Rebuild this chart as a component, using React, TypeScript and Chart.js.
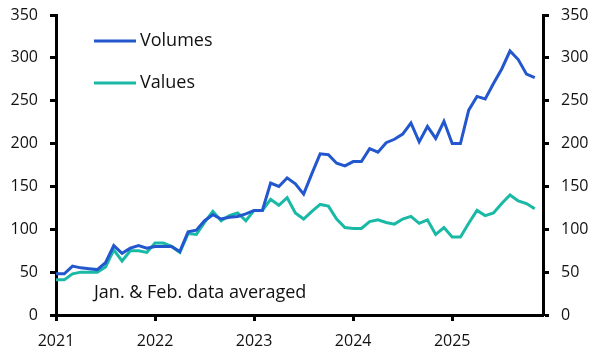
import React, { useEffect, useRef } from "react";
import { Chart, registerables } from "chart.js";

Chart.register(...registerables);

const years = ["2021", "2022", "2023", "2024", "2025"];
const monthNames = ["Jan", "Feb", "Mar", "Apr", "May", "Jun", "Jul", "Aug", "Sep", "Oct", "Nov", "Dec"];
const categories: string[] = [];
years.forEach((y) => monthNames.forEach((m) => categories.push(m + " " + y)));

const volumes = [
  48, 48, 57, 55, 54, 53, 61, 81, 72, 78, 81, 78,
  80, 80, 80, 74, 97, 99, 110, 117, 112, 114, 115, 118,
  122, 122, 154, 150, 160, 153, 141, 165, 188, 187, 177, 174,
  179, 179, 194, 190, 201, 205, 211, 224, 202, 220, 206, 226,
  200, 200, 239, 255, 252, 270, 287, 308, 298, 281, 277,
];

const values = [
  41, 41, 48, 50, 50, 50, 56, 76, 63, 75, 75, 73,
  84, 84, 80, 73, 95, 94, 108, 121, 110, 116, 119, 110,
  122, 122, 135, 128, 137, 119, 112, 121, 129, 127, 112, 102,
  101, 101, 109, 111, 108, 106, 112, 115, 107, 111, 94, 102,
  91, 91, 107, 122, 116, 119, 130, 140, 133, 130, 124,
];

const seriesNames = ["Volumes", "Values"];
const seriesColors = ["#2357CD", "#19B9A6"];
const note = "Jan. & Feb. data averaged";
const yTicks = { min: 0, max: 350, step: 50 };

const FONT = "'Open Sans', sans-serif";
const FONT_SIZE = 16;
const TEXT_SIZE = 18;

const overlayPlugin = {
  id: "overlay",
  afterDatasetsDraw(chart: any) {
    const ctx = chart.ctx;
    ctx.save();
    ctx.font = `${TEXT_SIZE}px ${FONT}`;
    ctx.textBaseline = "middle";
    ctx.textAlign = "left";
    chart.data.datasets.forEach((ds: any, i: number) => {
      const y = 41 + i * 42;
      ctx.strokeStyle = ds.borderColor;
      ctx.lineWidth = 3;
      ctx.beginPath();
      ctx.moveTo(94, y);
      ctx.lineTo(136, y);
      ctx.stroke();
      ctx.fillStyle = "#111";
      ctx.fillText(ds.label, 140, y);
    });
    ctx.fillStyle = "#111";
    ctx.fillText(note, 94, 293);
    ctx.restore();
  },
};

export default function App() {
  const ref = useRef<HTMLCanvasElement>(null);
  useEffect(() => {
    document.body.style.margin = "0";
    const yAxis = (position: "left" | "right", width: number) => ({
      type: "linear" as const,
      position,
      min: yTicks.min,
      max: yTicks.max,
      ticks: {
        stepSize: yTicks.step,
        color: "#111",
        font: { family: FONT, size: FONT_SIZE },
        padding: 12,
      },
      grid: {
        drawOnChartArea: false,
        drawTicks: true,
        tickLength: 6,
        tickWidth: 3,
        tickColor: "#000",
      },
      border: { display: true, color: "#000", width: 3 },
      afterFit: (s: any) => {
        s.width = width;
        s.paddingTop = 0;
        s.paddingBottom = 0;
      },
    });
    const chart = new Chart(ref.current!, {
      type: "line",
      data: {
        labels: categories,
        datasets: [
          {
            label: seriesNames[0],
            data: volumes,
            borderColor: seriesColors[0],
            backgroundColor: seriesColors[0],
            borderWidth: 3,
            pointRadius: 0,
            tension: 0,
            yAxisID: "y",
          },
          {
            label: seriesNames[1],
            data: values,
            borderColor: seriesColors[1],
            backgroundColor: seriesColors[1],
            borderWidth: 3,
            pointRadius: 0,
            tension: 0,
            yAxisID: "y",
          },
        ],
      },
      options: {
        animation: false,
        responsive: true,
        maintainAspectRatio: false,
        layout: { padding: { top: 15, left: 0, right: 0, bottom: 0 } },
        plugins: { legend: { display: false }, tooltip: { enabled: false } },
        scales: {
          x: {
            type: "category",
            offset: false,
            ticks: {
              autoSkip: false,
              maxRotation: 0,
              color: "#111",
              font: { family: FONT, size: FONT_SIZE },
              padding: 11,
              callback: (_v: any, idx: number) => (idx % 12 === 0 ? years[idx / 12] : ""),
            },
            grid: {
              drawOnChartArea: false,
              drawTicks: true,
              tickLength: 6,
              tickWidth: 3,
              tickColor: (c: any) => (c.index % 12 === 0 ? "#000" : "rgba(0,0,0,0)"),
            },
            border: { display: true, color: "#000", width: 3 },
            afterFit: (s: any) => {
              s.height = 49;
              s.paddingLeft = 0;
              s.paddingRight = 0;
            },
          },
          y: yAxis("left", 56),
          y2: yAxis("right", 60),
        },
      },
      plugins: [overlayPlugin],
    });
    return () => chart.destroy();
  }, []);
  return (
    <div style={{ width: 603, height: 364, position: "relative" }}>
      <canvas ref={ref} />
    </div>
  );
}
